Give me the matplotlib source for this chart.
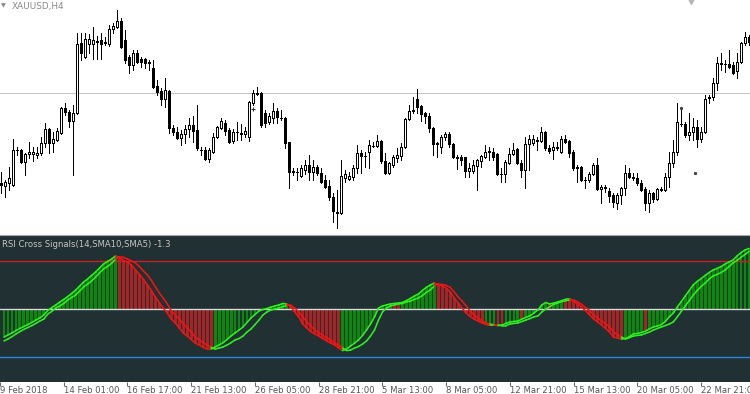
import numpy as np
import matplotlib
matplotlib.use("Agg")
import matplotlib.pyplot as plt
from matplotlib.collections import LineCollection
from matplotlib.lines import Line2D
from matplotlib import transforms

# XAUUSD H4 bars (bar 1 = left edge)
opens = [1318.25, 1317.5, 1318.25, 1317.75, 1326.5, 1326.5, 1323.5, 1325.5, 1325.5, 1325.25,
         1325.75, 1328.25, 1331.75, 1328.25, 1329, 1330.75, 1337, 1336, 1333.75, 1335.75,
         1353.25, 1349.75, 1353, 1353, 1353.75, 1354, 1353.5, 1353, 1356.75, 1357.25,
         1358.75, 1354, 1349.75, 1347.75, 1350.75, 1349.25, 1349.25, 1348.5, 1347, 1342.5,
         1341.25, 1339.25, 1341.25, 1332, 1331, 1329.5, 1330.5, 1331.75, 1332.75, 1331.5,
         1326.5, 1326.5, 1324.25, 1326, 1329.75, 1332, 1333.25, 1331.5, 1328.75, 1331,
         1330.75, 1330.5, 1329.75, 1338.25, 1340.75, 1340.75, 1335.75, 1333.5, 1334.5, 1336.25,
         1334.6, 1334.5, 1328.5, 1321.25, 1321, 1320, 1321.5, 1322.75, 1321, 1322.25,
         1320.75, 1319, 1317.5, 1314.75, 1310.75, 1310.75, 1319.5, 1319.25, 1319.75, 1322,
         1325.75, 1325, 1326, 1327.5, 1327.5, 1328.75, 1323.75, 1320.75, 1322.75, 1324.5,
         1325, 1327.25, 1334.25, 1336.25, 1339.25, 1337.5, 1335.75, 1335, 1332, 1328.25,
         1327.25, 1329.75, 1330.5, 1328, 1324.75, 1324.75, 1324.75, 1321.25, 1321.25, 1322.5,
         1323.75, 1324.75, 1326.25, 1326, 1325.5, 1320.5, 1320.5, 1323.25, 1325.5, 1326.75,
         1323.25, 1321.5, 1328, 1328.25, 1328.75, 1328.75, 1331, 1327, 1326.5, 1327.25,
         1326, 1329.25, 1328.75, 1326, 1322.25, 1322.25, 1319, 1319, 1320.5, 1322.75,
         1316.75, 1317.25, 1316.25, 1315.25, 1313.25, 1315.25, 1317, 1320.75, 1319.75, 1319.5,
         1318.25, 1316.75, 1313.25, 1315.75, 1314.25, 1316.75, 1316.5, 1319.75, 1323.25, 1326,
         1333, 1333, 1330.25, 1331, 1332.25, 1329.25, 1331, 1339.75, 1339.75, 1343.25,
         1348.25, 1348, 1348, 1347.75, 1346.25, 1348.5, 1353.25, 1354.75]
highs = [1321, 1319, 1322.25, 1329.25, 1327.25, 1326.75, 1325.75, 1328.5, 1327.25, 1327.25,
         1329.75, 1333.25, 1332, 1331, 1332, 1337.25, 1338.25, 1336.5, 1337.75, 1355.75,
         1355.75, 1355.75, 1355.5, 1357.25, 1355, 1355.75, 1354.75, 1357.75, 1358.25, 1361.5,
         1359.5, 1356.5, 1350.25, 1351.5, 1351.5, 1349.75, 1349.5, 1349, 1349, 1344,
         1342, 1344.5, 1341.5, 1332.75, 1332.25, 1331.5, 1332.75, 1334.5, 1335, 1337.75,
         1327.25, 1327.25, 1327, 1330.75, 1332.5, 1334.5, 1334, 1332, 1331.75, 1333.5,
         1333, 1332.25, 1338.75, 1341.5, 1342.25, 1341, 1336.5, 1335.75, 1338.25, 1337,
         1336.5, 1334.75, 1328.5, 1322, 1322, 1322.75, 1324, 1325.25, 1324, 1322.75,
         1322, 1320.25, 1319, 1315.75, 1316.5, 1324, 1321.5, 1321, 1322.75, 1327.75,
         1326.5, 1326, 1329, 1328.5, 1330.25, 1329, 1325.75, 1323.5, 1325.25, 1327,
         1328.25, 1334.5, 1337.75, 1339.75, 1341.75, 1337.75, 1336, 1335.75, 1332.25, 1328.5,
         1330.25, 1331, 1331, 1328.25, 1325.25, 1325.25, 1324.75, 1323.25, 1324, 1324.25,
         1325.25, 1327.75, 1327.25, 1327, 1325.75, 1322, 1324, 1327, 1328.25, 1327,
         1324, 1329.75, 1330.25, 1330.25, 1329.75, 1332.25, 1331.25, 1327.75, 1328.5, 1328.5,
         1330, 1330.25, 1329, 1326.5, 1322.75, 1322.5, 1319.75, 1321, 1323.25, 1324.5,
         1317.75, 1317.75, 1317, 1315.75, 1315.75, 1317.25, 1322.75, 1322, 1320.75, 1320.75,
         1319, 1317.25, 1316.5, 1316, 1317, 1317.25, 1320.75, 1326, 1329, 1338.25,
         1336.5, 1333.5, 1335.75, 1334.5, 1334, 1332.25, 1340.25, 1340.25, 1344.5, 1349.75,
         1350.75, 1349, 1351.5, 1348.5, 1350.75, 1353.5, 1356, 1355.25]
lows = [1315.75, 1314.75, 1316.5, 1317.5, 1325.25, 1323.25, 1320.25, 1324.5, 1323.75, 1324.5,
        1325.25, 1327.25, 1325.75, 1326, 1328.75, 1330.5, 1335.25, 1332.25, 1320.25, 1335.5,
        1349, 1349.5, 1350.75, 1349.25, 1349.25, 1349.25, 1352.75, 1352.5, 1355.75, 1357,
        1352, 1348.25, 1345.75, 1346.5, 1348.25, 1347.25, 1347, 1346.5, 1342, 1340.25,
        1337.75, 1337.25, 1330.75, 1330.25, 1329.25, 1327.75, 1328.25, 1329.75, 1328.5, 1326.5,
        1325.25, 1324, 1323.5, 1325.75, 1329.5, 1331.75, 1330.25, 1328.25, 1328.25, 1329,
        1329, 1329.75, 1328.75, 1337.75, 1340.25, 1332.25, 1332.25, 1333, 1333.25, 1333.25,
        1334, 1327, 1317, 1320.25, 1319, 1319.75, 1320.5, 1319, 1319, 1320.25,
        1318.25, 1317, 1314, 1308.5, 1307, 1310.5, 1318.5, 1319, 1319, 1320.75,
        1320.75, 1322.25, 1322, 1327.25, 1327.25, 1323.25, 1320.5, 1320.5, 1322.25, 1323.5,
        1324, 1327, 1334, 1335.75, 1335.75, 1333.75, 1333.25, 1331, 1325.25, 1324.75,
        1325.75, 1329, 1327.25, 1324.5, 1321.75, 1322.75, 1319.75, 1319.75, 1320.75, 1316.5,
        1322.25, 1324.5, 1324, 1324, 1320.25, 1318.5, 1318.5, 1323, 1325.25, 1323,
        1319.75, 1317, 1321.5, 1327.75, 1326.5, 1328.5, 1326.5, 1325.75, 1324.25, 1326.5,
        1325.75, 1328.25, 1324.75, 1321.5, 1318.5, 1318.75, 1317, 1318.5, 1320.25, 1316.5,
        1313.25, 1316, 1313.5, 1312.25, 1311.75, 1313, 1315.25, 1319.5, 1319, 1317.75,
        1316.25, 1311.5, 1311, 1313.5, 1314, 1316.25, 1316.25, 1317.25, 1322.25, 1325.25,
        1332.5, 1329.75, 1329, 1329, 1327.25, 1328.5, 1330.75, 1338.25, 1339, 1341.5,
        1346.5, 1346, 1347, 1345.5, 1344.5, 1348.25, 1352.75, 1352.75]
closes = [1317.75, 1318.5, 1319.5, 1326.5, 1326.4, 1323.5, 1325.5, 1326, 1326, 1325.75,
          1328.25, 1331.75, 1328.25, 1329.25, 1331.25, 1337, 1336, 1333.75, 1335.75, 1353,
          1350.75, 1354.25, 1354.25, 1354, 1353.6, 1353, 1353.25, 1356.75, 1357.5, 1358.75,
          1352.25, 1349, 1347.75, 1350.75, 1348.5, 1348.5, 1348.25, 1348.25, 1342.25, 1341,
          1339.25, 1341.5, 1332, 1331, 1329.5, 1330.5, 1331.75, 1332.75, 1331.25, 1327,
          1326.4, 1324.25, 1326.5, 1329.75, 1332.25, 1333.75, 1331.25, 1328.5, 1331, 1330.9,
          1330.5, 1331.25, 1338.5, 1340.75, 1340.6, 1332.75, 1333.25, 1335, 1336.25, 1334.75,
          1334.5, 1328.25, 1321, 1321.1, 1320.9, 1322, 1322.75, 1321, 1322.25, 1320.75,
          1318.5, 1317.25, 1314.75, 1311.25, 1310.9, 1320, 1320.5, 1320, 1322, 1325.75,
          1325, 1325.1, 1327.75, 1327.6, 1328.75, 1323.75, 1320.75, 1323.25, 1324.75, 1325.25,
          1327.25, 1334.25, 1336.25, 1336.4, 1337.25, 1335.5, 1335, 1332, 1328, 1328.1,
          1329.75, 1330.5, 1328, 1324.75, 1324.6, 1324, 1321.25, 1322, 1322.75, 1324,
          1325, 1326, 1326.1, 1324.75, 1320.5, 1320.4, 1323.5, 1325.5, 1326.5, 1323.25,
          1321.5, 1328, 1329.25, 1329.25, 1328.9, 1331, 1327, 1326.25, 1327.25, 1327.1,
          1329.25, 1328.5, 1325.75, 1322, 1322.1, 1319, 1318.9, 1320.5, 1322.75, 1316.75,
          1317.25, 1317.1, 1315, 1313.5, 1315.25, 1317, 1320.75, 1319.75, 1319.6, 1318.25,
          1316.5, 1313.25, 1315.75, 1314.25, 1316.75, 1316.6, 1319.75, 1323.25, 1326, 1333.5,
          1332.9, 1330.25, 1331, 1332.25, 1329.25, 1331, 1339.25, 1339.6, 1343.25, 1348.25,
          1348.1, 1347.9, 1347.25, 1345.75, 1348.5, 1353.25, 1354.75, 1353.5]

# RSI(14) smoothed by SMA5 (fast) and SMA10 (slow)
rsi_fast = [38.3, 39.2, 40.0, 41.0, 41.9, 42.7, 43.5, 44.4, 45.4, 46.25,
            47.5, 49.4, 50.6, 51.7, 52.9, 54.0, 55.2, 56.5, 57.9, 59.6,
            61.25, 62.5, 64.0, 65.4, 67.1, 68.75, 69.8, 70.8, 72.1, 71.5,
            70.2, 69.6, 68.3, 66.25, 64.4, 62.3, 60.0, 57.7, 55.0, 52.7,
            50.4, 48.3, 45.8, 44.2, 42.1, 40.0, 38.75, 37.3, 35.8, 35.0,
            34.0, 33.3, 33.3, 34.2, 35.0, 36.0, 37.3, 38.75, 40.0, 41.25,
            42.5, 44.4, 46.25, 47.7, 49.2, 49.8, 50.2, 50.8, 51.25, 51.7,
            52.3, 52.1, 51.0, 48.75, 46.7, 43.75, 42.1, 40.6, 39.6, 38.75,
            37.7, 36.7, 35.8, 35.0, 33.75, 32.7, 33.3, 34.6, 35.8, 37.1,
            39.0, 41.25, 43.75, 46.7, 50.4, 51.25, 51.7, 52.1, 52.3, 52.5,
            52.7, 53.5, 54.4, 55.4, 56.25, 57.7, 59.0, 60.0, 60.8, 60.2,
            59.6, 58.75, 57.1, 54.6, 52.5, 50.4, 48.3, 46.9, 45.8, 45.0,
            44.2, 43.5, 43.3, 43.3, 43.1, 43.3, 44.0, 44.6, 44.8, 45.0,
            45.8, 46.5, 47.1, 48.3, 49.6, 51.7, 52.7, 52.1, 52.5, 52.9,
            53.5, 54.0, 54.0, 53.3, 52.1, 50.8, 49.2, 47.5, 45.8, 44.6,
            43.3, 41.9, 40.4, 38.3, 37.9, 37.5, 37.7, 38.5, 39.6, 39.8,
            40.2, 40.8, 41.7, 42.5, 42.9, 43.5, 44.8, 46.7, 48.3, 50.8,
            53.1, 55.4, 57.7, 60.0, 61.5, 62.7, 64.0, 65.2, 66.25, 66.9,
            67.7, 68.75, 69.6, 70.4, 72.1, 73.5, 74.6, 75.2]
rsi_slow = [36.7, 37.5, 38.5, 39.6, 40.6, 41.5, 42.3, 43.1, 44.0, 45.0,
            45.8, 47.9, 49.0, 50.4, 51.25, 52.3, 53.75, 54.8, 55.8, 57.5,
            59.2, 60.4, 61.7, 63.3, 65.0, 66.7, 67.7, 69.0, 70.8, 71.7,
            71.5, 70.8, 70.0, 69.2, 67.7, 65.8, 64.2, 61.9, 59.2, 56.7,
            54.4, 52.1, 49.2, 47.5, 45.8, 43.75, 42.1, 40.4, 38.3, 37.1,
            36.0, 35.0, 34.0, 33.3, 33.75, 34.2, 35.0, 36.0, 37.1, 37.7,
            38.75, 40.4, 41.7, 43.5, 45.4, 47.5, 48.75, 49.6, 50.0, 50.4,
            51.0, 51.5, 51.5, 50.4, 48.75, 46.7, 44.6, 42.9, 41.25, 40.0,
            39.0, 37.9, 37.1, 35.8, 35.0, 33.75, 32.7, 32.9, 33.75, 34.4,
            35.4, 36.7, 38.75, 41.25, 45.4, 48.75, 50.4, 51.25, 51.7, 52.1,
            52.3, 52.9, 53.3, 54.0, 54.6, 55.6, 56.9, 57.9, 59.6, 60.4,
            60.2, 59.8, 59.0, 57.1, 55.0, 53.3, 51.25, 49.2, 47.5, 46.25,
            45.0, 44.2, 43.75, 43.3, 43.3, 43.1, 43.1, 43.75, 44.0, 44.2,
            44.8, 45.4, 46.0, 46.7, 47.1, 48.75, 50.0, 51.0, 51.9, 52.5,
            53.1, 53.5, 53.75, 53.75, 52.9, 51.9, 50.6, 49.4, 47.5, 46.25,
            45.0, 44.0, 42.5, 40.4, 39.2, 38.3, 37.5, 38.1, 38.75, 39.0,
            39.2, 39.8, 40.4, 41.25, 41.9, 42.5, 43.1, 43.75, 44.6, 46.7,
            49.0, 51.25, 53.5, 55.8, 57.7, 59.4, 60.8, 62.5, 63.75, 64.4,
            65.2, 66.25, 67.7, 69.2, 70.2, 71.5, 72.7, 74.0]

# histogram colour, as runs of bars
hist_runs = [("g", 29), ("r", 24), ("g", 19), ("r", 13), ("g", 13), ("r", 2), ("g", 9),
             ("r", 12), ("g", 3), ("r", 2), ("g", 4), ("r", 1), ("g", 6), ("r", 1),
             ("g", 3), ("r", 15), ("g", 5), ("r", 1), ("g", 26)]

tick_bars = [0, 16, 32, 48, 64, 80, 96, 112, 128, 144, 160, 176]
tick_labels = ["9 Feb 2018", "14 Feb 01:00", "16 Feb 17:00", "21 Feb 13:00", "26 Feb 05:00",
               "28 Feb 21:00", "5 Mar 13:00", "8 Mar 05:00", "12 Mar 21:00", "15 Mar 13:00",
               "20 Mar 05:00", "22 Mar 21:00"]
hline_price = 1340.75
levels = [70, 50, 30]
level_colors = ["#c4222a", "#d8d8d8", "#2c86dc"]
signal_bar = [64, 171, 174.4]
signal_price = [1336.75, 1337.0, 1320.8]

W, H = 750, 394
fig = plt.figure(figsize=(W / 100, H / 100), dpi=100)
fig.patch.set_facecolor("white")

ax = fig.add_axes([0, 1 - 233 / H, 1, 233 / H])
axr = fig.add_axes([0, 1 - 382 / H, 1, 146 / H])

x = np.arange(1, len(closes) + 1)
o, hi, lo, c = (np.array(v) for v in (opens, highs, lows, closes))
up = c >= o
PX = 0.72  # one pixel in points

ax.vlines(x, lo, hi, color="black", lw=PX, antialiased=False, zorder=2)
ax.bar(x, np.maximum(np.abs(c - o), 0.01), bottom=np.minimum(o, c), width=0.5,
       color=np.where(up, "white", "black"), edgecolor="black", linewidth=PX,
       antialiased=False, zorder=3)
ax.axhline(hline_price, color="#c4c4c4", lw=PX, antialiased=False, zorder=1)
ax.plot(signal_bar[:1], signal_price[:1], "+", ms=3, mew=0.8, color="#333333")
ax.plot(signal_bar[1:], signal_price[1:], "s", ms=1.2, color="#444444")
ax.plot([173.5], [1364], "v", ms=6, color="#b5b5b5", clip_on=False)
ax.set_xlim(0.75, 188.25)
ax.set_ylim(1305.75, 1364)
ax.axis("off")

# indicator window
axr.set_facecolor("#213033")
fast = np.array(rsi_fast)
slow = np.array(rsi_slow)
hist_cols = []
for col, n in hist_runs:
    hist_cols += [("#0a8a0a" if col == "g" else "#a82424")] * n
axr.bar(x, fast - 50, bottom=50, width=0.72, color=hist_cols, antialiased=False, zorder=1)
for lv, lc in zip(levels, level_colors):
    axr.axhline(lv, color=lc, lw=1.0, zorder=2)

line_cols = ["#2cf01c" if f >= s else "#f01414" for f, s in zip(fast[1:], slow[1:])]
for series in (slow, fast):
    pts = np.column_stack([x, series])
    segs = np.stack([pts[:-1], pts[1:]], axis=1)
    axr.add_collection(LineCollection(segs, colors=line_cols, linewidths=1.15,
                                      capstyle="round", zorder=3))

axr.set_xlim(0.75, 188.25)
axr.set_ylim(19.6, 80.4)
for sp in axr.spines.values():
    sp.set_visible(False)
axr.set_yticks([])
axr.set_xticks(tick_bars)
axr.set_xticklabels([])
axr.tick_params(axis="x", length=3, width=0.8, color="#6a6a6a", direction="out")

lab_tr = transforms.offset_copy(axr.get_xaxis_transform(), fig=fig, x=0, y=-4, units="dots")
for tb, lab in zip(tick_bars, tick_labels):
    axr.text(tb, 0, lab, transform=lab_tr, ha="left", va="top", fontsize=6.1,
             color="#555555", clip_on=False)

fig.add_artist(Line2D([0, 1], [1 - 234.5 / H] * 2, color="#a8a8a8", lw=0.8))

fig.text(1 / W, 1 - 6 / H, "\u25bc", fontsize=4.5, color="#8a8a8a", va="center", ha="left")
fig.text(12 / W, 1 - 7 / H, "XAUUSD,H4", fontsize=6.4, color="#8a8a8a", va="center", ha="left")
fig.text(2 / W, 1 - 244.5 / H, "RSI Cross Signals(14,SMA10,SMA5) -1.3", fontsize=6.1,
         color="#c4c4c4", va="center", ha="left")

fig.savefig("out.png", dpi=100)
